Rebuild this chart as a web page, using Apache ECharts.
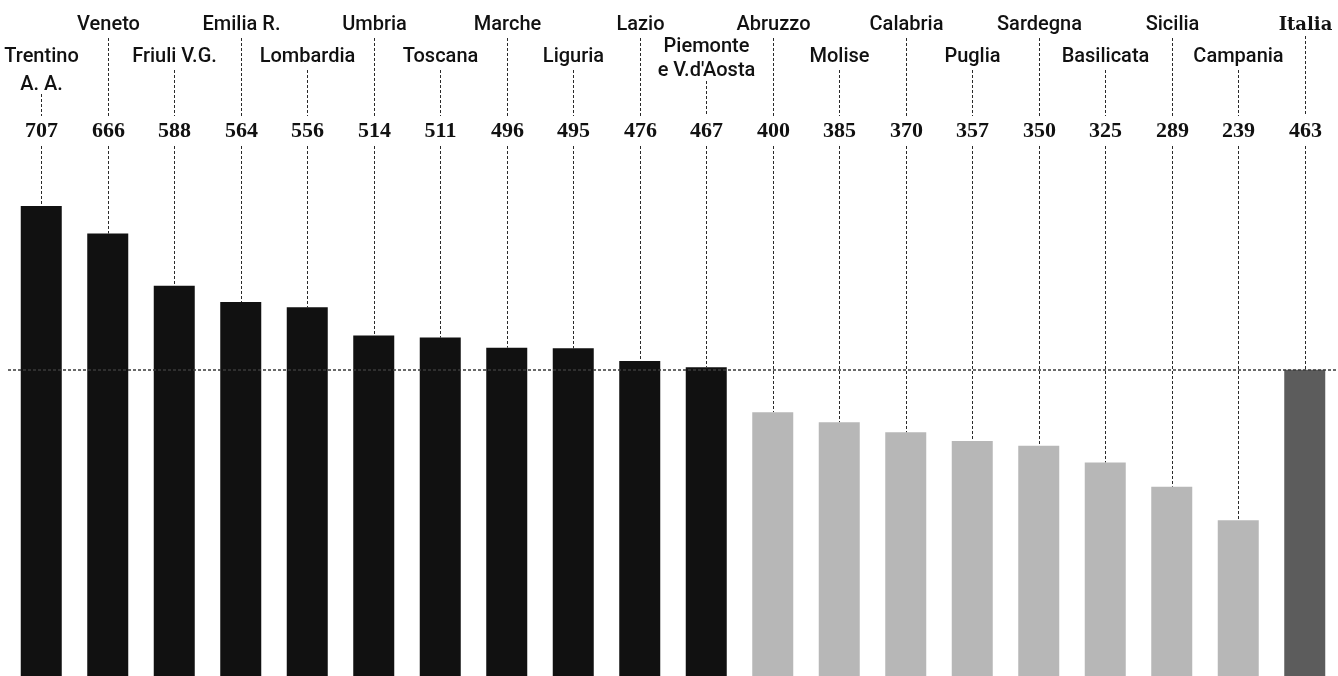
<!DOCTYPE html>
<html>
<head>
<meta charset="utf-8">
<script src="https://cdn.jsdelivr.net/npm/echarts@6/dist/echarts.min.js"></script>
<style>
html,body{margin:0;padding:0;background:#fff;}
#chart{width:1338px;height:676px;}
</style>
</head>
<body>
<div id="chart"></div>
<script>
// ---- data ----
var categories = ['Trentino\nA. A.', 'Veneto', 'Friuli V.G.', 'Emilia R.', 'Lombardia', 'Umbria', 'Toscana', 'Marche', 'Liguria', 'Lazio', "Piemonte\ne V.d'Aosta", 'Abruzzo', 'Molise', 'Calabria', 'Puglia', 'Sardegna', 'Basilicata', 'Sicilia', 'Campania', 'Italia'];
var values = [707, 666, 588, 564, 556, 514, 511, 496, 495, 476, 467, 400, 385, 370, 357, 350, 325, 289, 239, 463];
var groups = ['nord','nord','nord','nord','nord','nord','nord','nord','nord','nord','nord','sud','sud','sud','sud','sud','sud','sud','sud','italia'];
var italyAverage = 463;

// ---- styles ----
var groupColors = { nord: '#111111', sud: '#b7b7b7', italia: '#5c5c5c' };
var labelFont = '500 20px Roboto, "Noto Sans", sans-serif';
var valueFont = 'bold 22px "Liberation Serif", "DejaVu Serif", serif';
var italiaFont = 'bold 18px "DejaVu Serif", "Liberation Serif", serif';
var dashStyle = { stroke: '#2a2a2a', lineWidth: 1, lineDash: [3, 2] };

var chart = echarts.init(document.getElementById('chart'));

function renderItem(params, api) {
  var idx = api.value(0);
  var val = api.value(1);
  var top = api.coord([idx, val]);
  var x = Math.round(top[0]) + 0.5;
  var barTop = top[1];
  var lines = categories[idx].split('\n');
  var textYs, lineStart;
  if (idx === 0) { textYs = [57, 85]; lineStart = 94; }
  else if (idx === 10) { textYs = [47, 71]; lineStart = 81; }
  else if (idx === 19) { textYs = [25]; lineStart = 36; }
  else {
    var upper = (idx % 2 === 1);
    textYs = upper ? [25] : [57];
    lineStart = upper ? 38 : 70;
  }
  var children = [];
  for (var i = 0; i < lines.length; i++) {
    children.push({
      type: 'text',
      style: {
        text: lines[i], x: x, y: textYs[i],
        textAlign: 'center', textVerticalAlign: 'middle',
        font: idx === 19 ? italiaFont : labelFont,
        fill: '#111'
      }
    });
  }
  children.push({ type: 'line', shape: { x1: x, y1: lineStart, x2: x, y2: 116 }, style: dashStyle });
  children.push({
    type: 'text',
    style: {
      text: String(val), x: x, y: 131,
      textAlign: 'center', textVerticalAlign: 'middle',
      font: valueFont, fill: '#111'
    }
  });
  children.push({ type: 'line', shape: { x1: x, y1: 146, x2: x, y2: barTop }, style: dashStyle });
  return { type: 'group', children: children };
}

var option = {
  backgroundColor: '#ffffff',
  animation: false,
  grid: { left: 8, right: -4, top: 9, bottom: 0 },
  xAxis: { type: 'category', data: categories, show: false },
  yAxis: { type: 'value', min: 7.4, max: 1000, show: false },
  series: [
    {
      type: 'bar',
      barWidth: 41,
      data: values.map(function (v, i) {
        return { value: v, itemStyle: { color: groupColors[groups[i]] } };
      }),
      markLine: {
        silent: true,
        symbol: 'none',
        label: { show: false },
        lineStyle: { color: '#3a3a3a', type: [3, 2], width: 1.5 },
        data: [{ yAxis: italyAverage }]
      },
      z: 2
    },
    {
      type: 'custom',
      renderItem: renderItem,
      data: values.map(function (v, i) { return [i, v]; }),
      z: 1
    }
  ]
};
chart.setOption(option);
</script>
</body>
</html>
